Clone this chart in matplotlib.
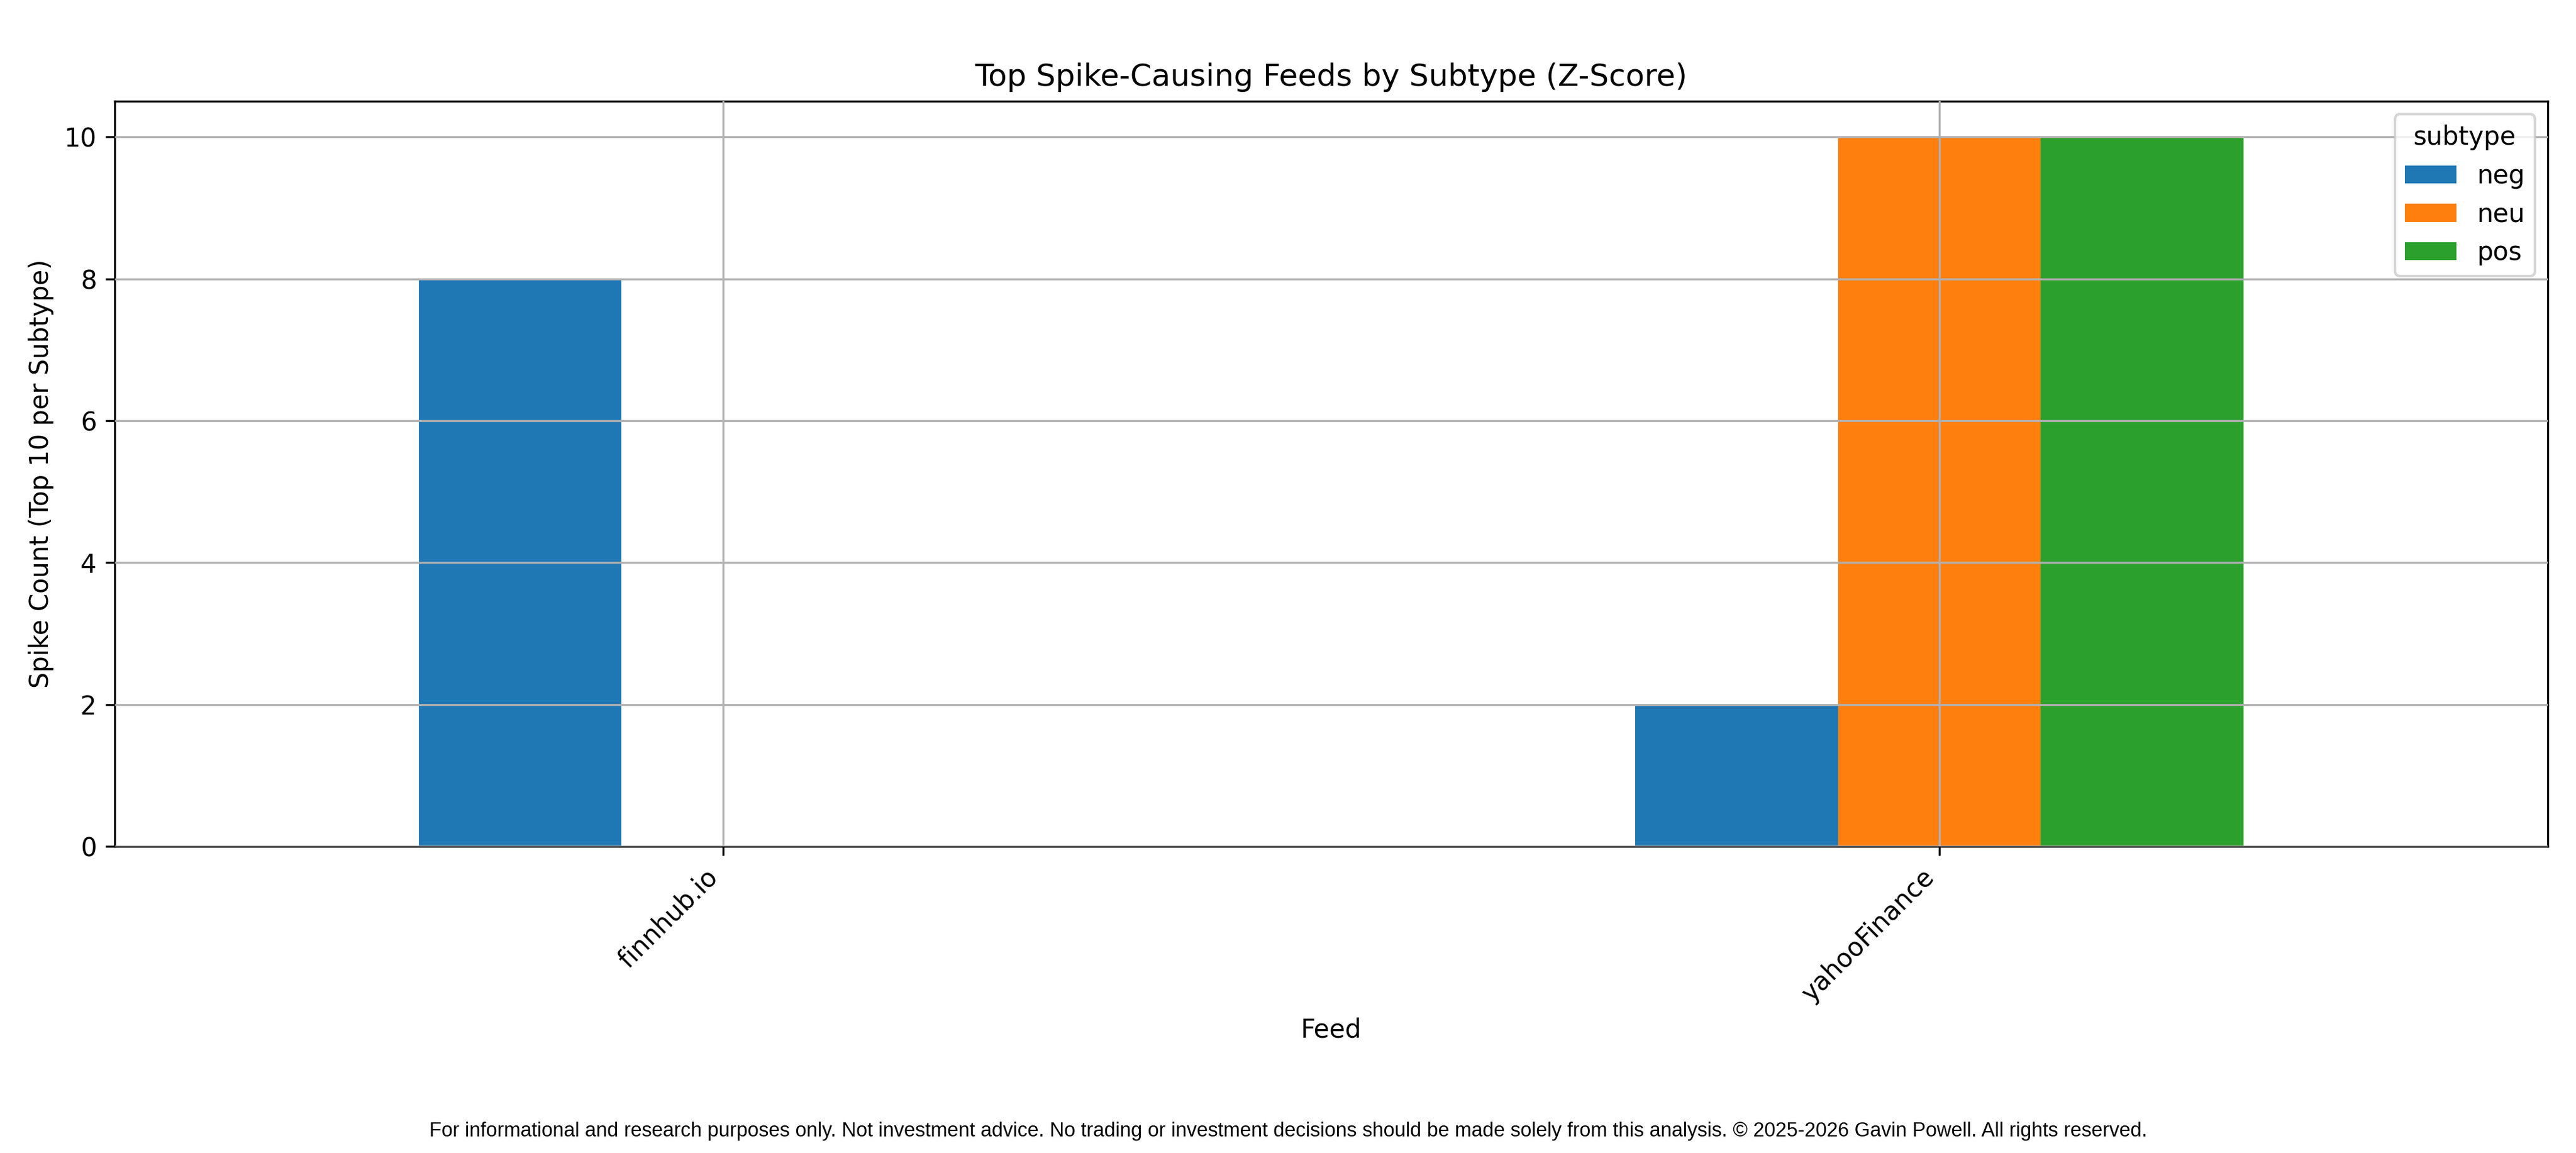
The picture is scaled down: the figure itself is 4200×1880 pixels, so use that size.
import matplotlib
matplotlib.use("Agg")
import matplotlib.pyplot as plt
import numpy as np

feeds = ["finnhub.io", "yahooFinance"]
subtypes = ["neg", "neu", "pos"]
neg = [8, 2]
neu = [0, 10]
pos = [0, 10]
colors = ["#1f77b4", "#ff7f0e", "#2ca02c"]

fig = plt.figure(figsize=(14, 6.2667), dpi=300)
ax = fig.add_axes([0.0445, 0.266, 0.9445, 0.646])

series = [neg, neu, pos]
x = np.arange(len(feeds))
w = 0.5 / len(subtypes)
for i, (name, vals) in enumerate(zip(subtypes, series)):
    offs = (i - 1) * w
    ax.bar(x + offs, vals, width=w, color=colors[i], label=name)

ax.set_xlim(-0.5, len(feeds) - 0.5)
ax.set_xticks(x)
ax.set_xticklabels(feeds, rotation=45, ha="right")
ax.grid(True)
ax.set_axisbelow(False)
ax.set_title("Top Spike-Causing Feeds by Subtype (Z-Score)", fontsize=12)
ax.set_xlabel("Feed")
ax.set_ylabel("Spike Count (Top 10 per Subtype)")
ax.legend(title="subtype", loc="upper right")

fig.text(0.5, 0.019,
         "For informational and research purposes only. Not investment advice. No trading or investment decisions should be made solely from this analysis. \u00a9 2025-2026 Gavin Powell. All rights reserved.",
         ha="center", va="center", fontsize=7.85, family="Liberation Sans")

fig.savefig("out.png", dpi=300)
